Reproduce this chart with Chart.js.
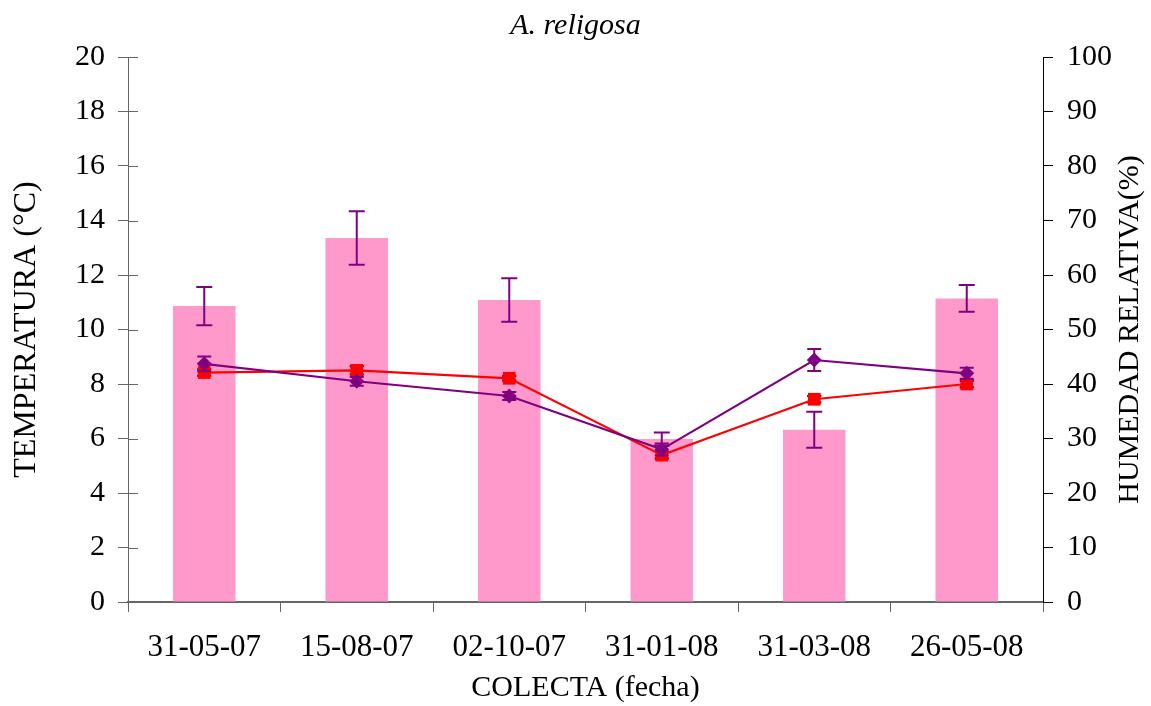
<!DOCTYPE html>
<html>
<head>
<meta charset="utf-8">
<script src="https://cdn.jsdelivr.net/npm/chart.js@4/dist/chart.umd.min.js"></script>
<style>
  html, body { margin: 0; padding: 0; background: #fff; }
  #wrap { width: 1151px; height: 706px; }
</style>
</head>
<body>
<div id="wrap"><canvas id="grafico"></canvas></div>
<script>
const colectas = ['31-05-07', '15-08-07', '02-10-07', '31-01-08', '31-03-08', '26-05-08'];

// humedad relativa (%) - barras, eje derecho
const humedad = [54.3, 66.8, 55.4, 29.9, 31.6, 55.7];
const humedadErr = [3.5, 4.9, 4.0, 1.2, 3.3, 2.45];

// temperatura (°C) - lineas, eje izquierdo
const tempMorada = [8.74, 8.10, 7.56, 5.60, 8.88, 8.39];
const tempMoradaErr = [0.27, 0.16, 0.15, 0.22, 0.40, 0.21];
const tempRoja = [8.42, 8.50, 8.21, 5.39, 7.44, 8.00];
const tempRojaErr = [0.12, 0.15, 0.08, 0.12, 0.12, 0.12];

const ticksTemp = [0, 2, 4, 6, 8, 10, 12, 14, 16, 18, 20];
const ticksHum = [0, 10, 20, 30, 40, 50, 60, 70, 80, 90, 100];

const fuente = "'Liberation Serif', 'Times New Roman', serif";

// barras de error, dibujadas con las escalas del grafico
const erroresPlugin = {
    id: 'errores',
    beforeDatasetDraw(chart, args) {
        const ds = chart.data.datasets[args.index];
        if (ds.type === 'line') dibujarErrores(chart, args.index);
    },
    afterDatasetDraw(chart, args) {
        const ds = chart.data.datasets[args.index];
        if (ds.type === 'bar') dibujarErrores(chart, args.index);
    },
    afterDraw(chart) {
        const ctx = chart.ctx;
        const area = chart.chartArea;
        const y = chart.scales.y;

        // marcas hacia dentro del eje izquierdo
        ctx.save();
        ctx.strokeStyle = '#666';
        ctx.lineWidth = 1;
        ticksTemp.forEach((t) => {
            const py = Math.round(y.getPixelForValue(t)) + 0.5;
            ctx.beginPath();
            ctx.moveTo(area.left, py);
            ctx.lineTo(area.left + 10, py);
            ctx.stroke();
        });
        ctx.restore();

        // titulo del eje derecho, leyendo de abajo hacia arriba
        ctx.save();
        ctx.fillStyle = '#000';
        ctx.font = '30px ' + fuente;
        ctx.textAlign = 'center';
        ctx.textBaseline = 'middle';
        ctx.translate(1130, (area.top + area.bottom) / 2);
        ctx.rotate(-Math.PI / 2);
        ctx.fillText('HUMEDAD RELATIVA(%)', 0, 0);
        ctx.restore();
    }
};

function dibujarErrores(chart, index) {
    const ds = chart.data.datasets[index];
    const meta = chart.getDatasetMeta(index);
    const escala = chart.scales[ds.yAxisID];
    const ctx = chart.ctx;
    ctx.save();
    ctx.strokeStyle = ds.errColor;
    ctx.lineWidth = 2;
    meta.data.forEach((el, i) => {
        const v = ds.data[i];
        const e = ds.errores[i];
        const x = el.x;
        const y1 = escala.getPixelForValue(v + e);
        const y2 = escala.getPixelForValue(v - e);
        const c = ds.capAncho / 2;
        ctx.beginPath();
        ctx.moveTo(x, y1);
        ctx.lineTo(x, y2);
        ctx.moveTo(x - c, y1);
        ctx.lineTo(x + c, y1);
        ctx.moveTo(x - c, y2);
        ctx.lineTo(x + c, y2);
        ctx.stroke();
    });
    ctx.restore();
}

new Chart(document.getElementById('grafico'), {
    data: {
        labels: colectas,
        datasets: [
            {
                type: 'line',
                label: 'Temperatura A',
                data: tempMorada,
                errores: tempMoradaErr,
                errColor: '#800080',
                capAncho: 14,
                yAxisID: 'y',
                borderColor: '#800080',
                backgroundColor: '#800080',
                borderWidth: 2.2,
                pointStyle: 'rectRot',
                pointRadius: 7.5,
                pointBorderWidth: 0,
                order: 1
            },
            {
                type: 'line',
                label: 'Temperatura B',
                data: tempRoja,
                errores: tempRojaErr,
                errColor: '#000',
                capAncho: 14,
                yAxisID: 'y',
                borderColor: '#ff0000',
                backgroundColor: '#ff0000',
                borderWidth: 2.2,
                pointStyle: 'rect',
                pointRadius: 9,
                pointBorderWidth: 0,
                order: 2
            },
            {
                type: 'bar',
                label: 'Humedad relativa',
                data: humedad,
                errores: humedadErr,
                errColor: '#800080',
                capAncho: 16,
                yAxisID: 'y1',
                backgroundColor: '#ff99cc',
                categoryPercentage: 1,
                barPercentage: 0.41,
                order: 3
            }
        ]
    },
    options: {
        responsive: true,
        maintainAspectRatio: false,
        animation: false,
        layout: { padding: 0 },
        plugins: {
            legend: { display: false },
            tooltip: { enabled: false },
            title: {
                display: true,
                text: 'A. religosa',
                color: '#000',
                font: { family: fuente, size: 30, style: 'italic', weight: 'normal' },
                padding: { top: 8, bottom: 13 }
            }
        },
        scales: {
            x: {
                grid: { offset: true, drawOnChartArea: false, tickLength: 10, color: '#666' },
                border: { color: '#666', width: 2 },
                ticks: { color: '#000', font: { family: fuente, size: 31 }, padding: 17, maxRotation: 0 },
                title: {
                    display: true,
                    text: 'COLECTA (fecha)',
                    color: '#000',
                    font: { family: fuente, size: 30 },
                    padding: { top: 0, bottom: 0 }
                },
                afterFit: (scale) => { scale.height = 104; }
            },
            y: {
                position: 'left',
                min: 0,
                max: 20,
                afterBuildTicks: (scale) => { scale.ticks = ticksTemp.map((v) => ({ value: v })); },
                grid: { drawOnChartArea: false, tickLength: 10, color: '#666' },
                border: { color: '#666', width: 1 },
                ticks: { color: '#000', font: { family: fuente, size: 30 }, padding: 13 },
                title: {
                    display: true,
                    text: 'TEMPERATURA (°C)',
                    color: '#000',
                    font: { family: fuente, size: 32 },
                    padding: { top: 7, bottom: 0 }
                },
                afterFit: (scale) => { scale.width = 128; }
            },
            y1: {
                position: 'right',
                min: 0,
                max: 100,
                afterBuildTicks: (scale) => { scale.ticks = ticksHum.map((v) => ({ value: v })); },
                grid: { drawOnChartArea: false, tickLength: 10, color: '#000' },
                border: { color: '#000', width: 1 },
                ticks: { color: '#000', font: { family: fuente, size: 30 }, padding: 14 },
                afterFit: (scale) => { scale.width = 108; }
            }
        }
    },
    plugins: [erroresPlugin]
});
</script>
</body>
</html>
